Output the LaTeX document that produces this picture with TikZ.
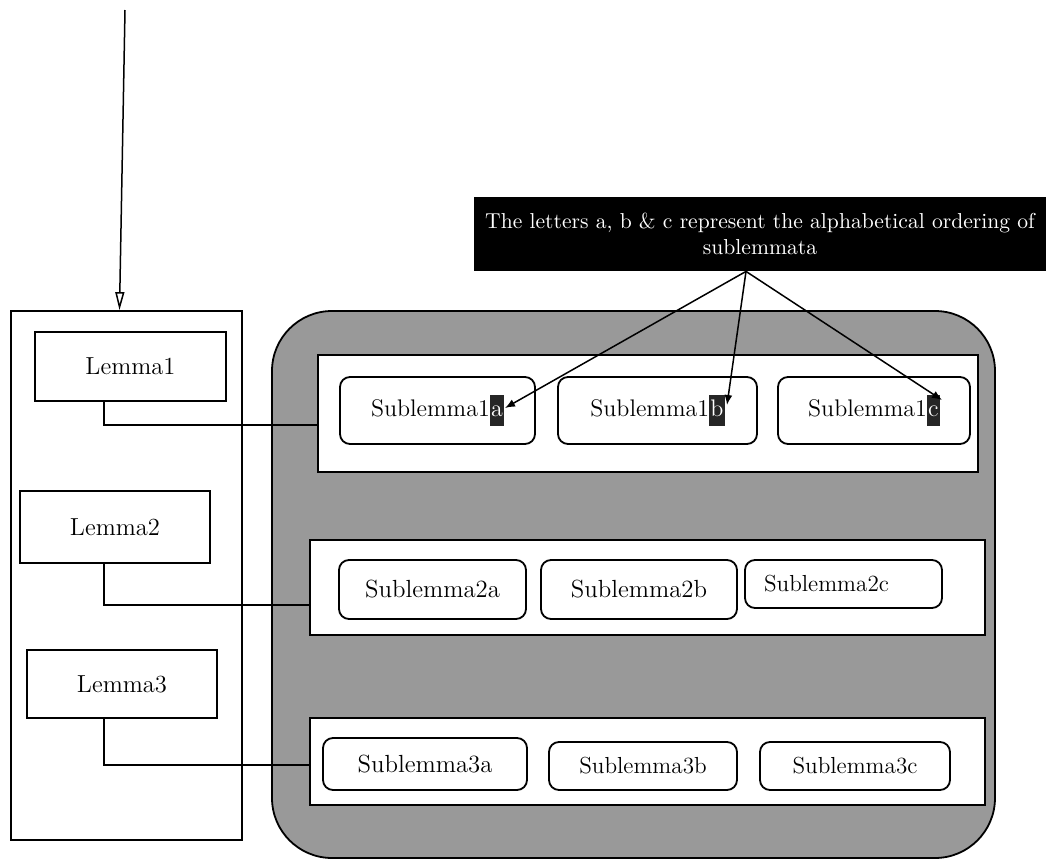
\documentclass[tikz,border=0pt]{standalone}
\usetikzlibrary{arrows.meta}
\newcommand\hilite[1]{{\setlength{\fboxsep}{0.6pt}\colorbox{black!85}{\textcolor{white}{\strut #1}}}}
\begin{document}
\begin{tikzpicture}[x=0.5pt,y=-0.5pt,
  frame/.style={draw=black,line width=0.9pt,fill=white,inner sep=0pt},
  lemmabox/.style={frame,font=\fontsize{12.3}{14}\selectfont},
  subbox/.style={frame,rounded corners=5pt,font=\fontsize{12.4}{14}\selectfont},
  subboxs/.style={subbox,font=\fontsize{11.6}{14}\selectfont},
  link/.style={draw=black,line width=0.75pt},
  pointer/.style={draw=black,line width=0.75pt,-{Latex[length=5pt,width=4pt]}}]
\useasboundingbox (0,0) rectangle (1051,863);

% shaded container of the sublemma groups
\node[draw=black,line width=0.9pt,fill=black!40,rounded corners=30pt,
      minimum width=361.5pt,minimum height=273.5pt,inner sep=0pt] (pool) at (633.5,584.5) {};

% one white panel per lemma
\node[frame,minimum width=330pt,minimum height=58.5pt] (P1) at (648,413.5) {};
\node[frame,minimum width=337.5pt,minimum height=47.5pt] (P2) at (647.5,587.5) {};
\node[frame,minimum width=337.5pt,minimum height=43.5pt] (P3) at (647.5,761.5) {};

% sublemmata
\node[subbox,minimum width=97.5pt,minimum height=33.5pt,font=\fontsize{12}{14}\selectfont] (S1a) at (437.5,410.5) {Sublemma1\hilite{a}};
\node[subbox,minimum width=99.5pt,minimum height=33.5pt,font=\fontsize{12}{14}\selectfont] (S1b) at (657.5,410.5) {Sublemma1\hilite{b}};
\node[subbox,minimum width=96pt,minimum height=33.5pt,font=\fontsize{12}{14}\selectfont] (S1c) at (874,410.5) {Sublemma1\hilite{c}};

\node[subbox,minimum width=93.5pt,minimum height=29.5pt] (S2a) at (432.5,589.5) {Sublemma2a};
\node[subbox,minimum width=98pt,minimum height=29.5pt] (S2b) at (639,589.5) {Sublemma2b};
\node[subboxs,minimum width=98.5pt,minimum height=24pt] (S2c) at (843.5,584) {Sublemma2c\kern17pt};

\node[subbox,minimum width=102pt,minimum height=26pt] (S3a) at (425,764) {Sublemma3a};
\node[subboxs,minimum width=94pt,minimum height=24pt] (S3b) at (643,766) {Sublemma3b};
\node[subboxs,minimum width=95pt,minimum height=24pt] (S3c) at (855,766) {Sublemma3c};

% lemma column
\node[frame,minimum width=115.5pt,minimum height=264.5pt] (col) at (126.5,575.5) {};
\node[lemmabox,minimum width=95.5pt,minimum height=34.5pt] (L1) at (130.5,366.5) {Lemma1};
\node[lemmabox,minimum width=95pt,minimum height=36pt] (L2) at (115,527) {Lemma2};
\node[lemmabox,minimum width=95pt,minimum height=34pt] (L3) at (122,684) {Lemma3};

% incoming arrow
\coordinate (src) at (125,10);
\draw[line width=0.75pt,-{Triangle[open,length=9pt,width=4.5pt]}] (src) -- ([xshift=-3.5pt]col.north);

% lemma to panel links
\draw[link] ([xshift=-13.25pt]L1.south) |- ([yshift=-5.75pt]P1.west);
\draw[link] ([xshift=-5.5pt]L2.south) |- ([yshift=-8.75pt]P2.west);
\draw[link] ([xshift=-9pt]L3.south) |- ([yshift=-1.75pt]P3.west);

% note
\node[fill=black,text=white,minimum width=286pt,minimum height=37pt,inner sep=0pt,
      align=center,font=\fontsize{10.8}{13}\selectfont] (note) at (760,234)
  {The letters a, b \& c represent the alphabetical ordering of\\sublemmata};
\coordinate (hub) at ([xshift=-7pt]note.south);
\draw[pointer] (hub) -- ([xshift=33.75pt,yshift=1.25pt]S1a.center);
\draw[pointer] (hub) -- ([xshift=34.75pt,yshift=2.75pt]S1b.center);
\draw[pointer] (hub) -- ([xshift=34pt,yshift=5.25pt]S1c.center);
\end{tikzpicture}
\end{document}
